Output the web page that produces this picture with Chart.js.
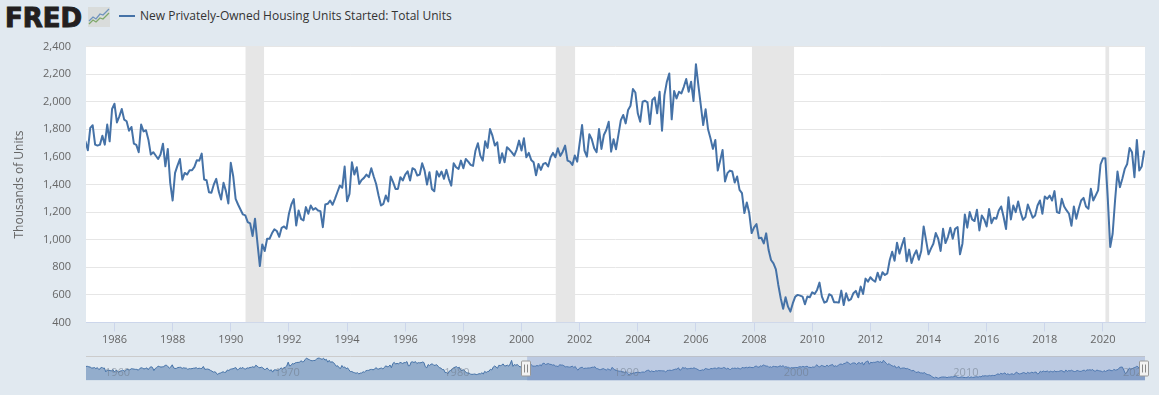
<!DOCTYPE html>
<html>
<head>
<meta charset="utf-8">
<title>New Privately-Owned Housing Units Started: Total Units</title>
<script src="https://cdn.jsdelivr.net/npm/chart.js@4"></script>
<style>
    html, body { margin: 0; padding: 0; background: #e1e9f0; width: 1159px; height: 395px; overflow: hidden; }
    canvas { position: absolute; left: 0; }
    #logo { position: absolute; left: 5px; top: 3px; font: bold 26px "DejaVu Sans"; color: #231f20; letter-spacing: 0; -webkit-text-stroke: 1px #231f20; }
    #logoIcon { position: absolute; left: 88px; top: 7px; }
    #legendLine { position: absolute; left: 119px; top: 15px; width: 16px; height: 2px; background: #4572a7; }
    #legendText { position: absolute; left: 140px; top: 7px; font: 12px "Open Sans"; line-height: 18px; color: #333; white-space: nowrap; }
</style>
</head>
<body>
<div id="logo">FRED</div>
<svg id="logoIcon" width="22" height="20" viewBox="0 0 22 20">
    <rect width="22" height="20" fill="#d9dcdb"/>
    <polyline points="1,14 5,10 8,12 12,7 15,8 21,2" fill="none" stroke="#6f93bd" stroke-width="1.3"/>
    <polyline points="1,17 5,13 8,15 12,11 15,12 21,6" fill="none" stroke="#7fa86a" stroke-width="1.3"/>
</svg>
<div id="legendLine"></div>
<div id="legendText">New Privately-Owned Housing Units Started: Total Units</div>
<canvas id="mainChart" width="1159" height="350" style="top:0"></canvas>
<canvas id="navChart" width="1159" height="45" style="top:350px"></canvas>

<script>
// Thousands of units, monthly from Jan 1985 to Jun 2021
const housingStarts = [
    1713, 1648, 1810, 1829, 1689, 1682, 1689, 1754, 1689, 1834, 1713, 1947,
    1985, 1850, 1894, 1947, 1870, 1858, 1790, 1817, 1696, 1687, 1634, 1834,
    1785, 1793, 1725, 1617, 1634, 1610, 1585, 1617, 1696, 1532, 1658, 1412,
    1284, 1484, 1537, 1585, 1436, 1484, 1472, 1503, 1503, 1528, 1576, 1573,
    1624, 1436, 1431, 1344, 1340, 1400, 1441, 1352, 1291, 1412, 1352, 1262,
    1557, 1460, 1296, 1255, 1219, 1183, 1176, 1128, 1118, 1026, 1152, 977,
    809, 966, 918, 1007, 1007, 1046, 1075, 1063, 1021, 1086, 1096, 1079,
    1188, 1255, 1294, 1103, 1212, 1151, 1139, 1236, 1188, 1248, 1217, 1229,
    1212, 1207, 1091, 1255, 1260, 1284, 1253, 1296, 1344, 1392, 1376, 1530,
    1279, 1332, 1561, 1472, 1525, 1404, 1433, 1448, 1472, 1453, 1518, 1458,
    1404, 1320, 1248, 1260, 1320, 1277, 1458, 1417, 1368, 1368, 1453, 1429,
    1472, 1496, 1429, 1518, 1508, 1465, 1472, 1554, 1501, 1400, 1489, 1368,
    1351, 1496, 1458, 1494, 1441, 1506, 1441, 1392, 1554, 1525, 1513, 1573,
    1518, 1585, 1566, 1542, 1535, 1645, 1699, 1609, 1573, 1713, 1665, 1802,
    1754, 1682, 1706, 1556, 1626, 1561, 1670, 1653, 1633, 1609, 1653, 1718,
    1646, 1735, 1597, 1629, 1578, 1561, 1467, 1549, 1506, 1549, 1556, 1530,
    1597, 1629, 1598, 1663, 1607, 1638, 1682, 1573, 1566, 1542, 1610, 1566,
    1699, 1831, 1646, 1602, 1764, 1728, 1663, 1634, 1802, 1658, 1759, 1795,
    1855, 1638, 1728, 1655, 1759, 1867, 1904, 1843, 1940, 1971, 2092, 2067,
    1916, 1855, 2000, 2007, 1995, 1838, 2012, 2031, 1916, 2072, 1790, 2048,
    2145, 2205, 1872, 2077, 2024, 2072, 2060, 2108, 2164, 2072, 2145, 2005,
    2272, 2120, 1976, 1831, 1945, 1800, 1735, 1658, 1723, 1501, 1573, 1650,
    1422, 1482, 1501, 1494, 1414, 1458, 1361, 1337, 1193, 1270, 1193, 1048,
    1089, 1113, 1010, 1014, 973, 1046, 925, 853, 829, 785, 672, 576,
    499, 583, 515, 479, 540, 588, 600, 595, 588, 532, 588, 583,
    619, 607, 636, 689, 588, 544, 552, 605, 595, 547, 547, 544,
    631, 527, 612, 559, 569, 612, 629, 583, 660, 607, 718, 696,
    728, 708, 696, 761, 708, 764, 744, 756, 853, 913, 848, 978,
    899, 959, 1012, 843, 928, 831, 887, 923, 855, 918, 1096, 995,
    894, 935, 971, 1048, 1007, 918, 1079, 976, 1019, 1087, 1007, 1079,
    1091, 894, 971, 1183, 1087, 1200, 1147, 1135, 1217, 1067, 1176, 1147,
    1096, 1222, 1120, 1159, 1152, 1212, 1241, 1164, 1077, 1308, 1147, 1248,
    1200, 1277, 1200, 1144, 1164, 1255, 1207, 1159, 1176, 1248, 1284, 1188,
    1313, 1296, 1320, 1284, 1352, 1200, 1193, 1296, 1241, 1212, 1188, 1101,
    1241, 1152, 1224, 1284, 1303, 1241, 1224, 1369, 1284, 1320, 1357, 1545,
    1590, 1590, 1296, 947, 1043, 1284, 1494, 1381, 1441, 1513, 1549, 1665,
    1634, 1453, 1723, 1501, 1530, 1641
];

// Older history only visible in the navigator, monthly from Jan 1959 to Dec 1984
const earlyStarts = [
    1657, 1667, 1620, 1590, 1498, 1503, 1547, 1430, 1540, 1355, 1416, 1601,
    1460, 1503, 1109, 1289, 1271, 1247, 1197, 1344, 1097, 1246, 1246, 1063,
    1183, 1226, 1312, 1166, 1228, 1382, 1335, 1312, 1429, 1415, 1385, 1365,
    1361, 1278, 1443, 1524, 1483, 1404, 1450, 1517, 1324, 1533, 1622, 1564,
    1244, 1456, 1534, 1689, 1641, 1588, 1614, 1639, 1763, 1779, 1622, 1491,
    1603, 1820, 1517, 1448, 1467, 1550, 1562, 1569, 1455, 1524, 1486, 1484,
    1361, 1433, 1423, 1438, 1478, 1488, 1529, 1432, 1482, 1452, 1460, 1656,
    1370, 1378, 1394, 1352, 1265, 1194, 1086, 1119, 1046, 843, 961, 990,
    1067, 1123, 1056, 1091, 1304, 1248, 1364, 1407, 1421, 1491, 1538, 1308,
    1380, 1520, 1466, 1554, 1408, 1405, 1512, 1495, 1556, 1569, 1630, 1548,
    1769, 1705, 1561, 1524, 1583, 1528, 1368, 1358, 1507, 1381, 1229, 1327,
    1085, 1305, 1319, 1264, 1290, 1385, 1517, 1399, 1534, 1580, 1708, 2085,
    1704, 1748, 1951, 1899, 2013, 2051, 2062, 2063, 2227, 2124, 2140, 2345,
    2494, 2390, 2334, 2249, 2221, 2254, 2252, 2382, 2481, 2485, 2421, 2366,
    2481, 2289, 2365, 2084, 2266, 2067, 2123, 2051, 1874, 1677, 1724, 1526,
    1451, 1752, 1555, 1607, 1426, 1513, 1316, 1142, 1150, 1070, 1026, 975,
    1032, 904, 993, 1005, 1121, 1087, 1226, 1260, 1264, 1344, 1360, 1321,
    1367, 1538, 1421, 1395, 1459, 1495, 1401, 1550, 1720, 1629, 1641, 1804,
    1527, 1943, 2063, 1892, 1971, 1893, 2058, 2020, 1949, 2042, 2042, 2142,
    1718, 1738, 2098, 2115, 2044, 2144, 1946, 2036, 2016, 2032, 2096, 2049,
    1630, 1520, 1847, 1748, 1876, 1913, 1760, 1778, 1832, 1681, 1524, 1498,
    1341, 1350, 1047, 1051, 927, 1196, 1269, 1387, 1523, 1580, 1637, 1500,
    1575, 1277, 1254, 1335, 1172, 1050, 1000, 988, 887, 862, 878, 900,
    843, 866, 931, 917, 1025, 902, 1166, 1046, 1144, 1173, 1372, 1303,
    1586, 1699, 1606, 1472, 1776, 1733, 1785, 1910, 1710, 1715, 1785, 1688,
    1897, 2260, 1663, 1851, 1774, 1843, 1732, 1586, 1698, 1590, 1689, 1612
];

const yearTicks = [1986, 1988, 1990, 1992, 1994, 1996, 1998, 2000, 2002, 2004, 2006, 2008, 2010, 2012, 2014, 2016, 2018, 2020];
const navYears = [1960, 1970, 1980, 1990, 2000, 2010, 2020];
const recessionStarts = [1990.5, 2001.17, 2007.92, 2020.08];
const recessionEnds = [1991.15, 2001.85, 2009.38, 2020.22];

const firstYear = 1985;
const navFirstYear = 1959;
const lastDate = firstYear + (housingStarts.length - 1) / 12;

const mainPoints = housingStarts.map((v, i) => ({ x: firstYear + i / 12, y: v }));
const earlyPoints = earlyStarts.map((v, i) => ({ x: navFirstYear + i / 12, y: v }));

// Grey recession bands, drawn as filled two point lines
const recessionSets = recessionStarts.map((start, i) => ({
    data: [{ x: start, y: 2400 }, { x: recessionEnds[i], y: 2400 }],
    borderWidth: 0,
    pointRadius: 0,
    backgroundColor: '#e6e6e6',
    fill: 'start'
}));

const whitePlot = {
    id: 'whitePlot',
    beforeDraw(chart) {
        const a = chart.chartArea;
        chart.ctx.fillStyle = '#ffffff';
        chart.ctx.fillRect(a.left, a.top, a.width, a.height);
    }
};

new Chart(document.getElementById('mainChart'), {
    type: 'line',
    data: {
        datasets: [{
            data: mainPoints,
            borderColor: '#4572a7',
            borderWidth: 2,
            borderJoinStyle: 'round',
            borderCapStyle: 'round',
            pointRadius: 0,
            tension: 0,
            fill: false
        }, ...recessionSets]
    },
    plugins: [whitePlot],
    options: {
        responsive: false,
        animation: false,
        layout: { padding: { top: 46.5, right: 14, left: 0, bottom: 0 } },
        plugins: { legend: { display: false }, tooltip: { enabled: false } },
        scales: {
            x: {
                type: 'linear',
                min: firstYear + 0.02,
                max: lastDate + 0.03,
                afterFit: s => { s.height = 27.5; },
                afterBuildTicks: s => { s.ticks = yearTicks.map(y => ({ value: y })); },
                grid: { drawOnChartArea: false, drawTicks: true, tickLength: 9, tickColor: '#ccd6eb' },
                border: { color: '#ccd6eb' },
                ticks: {
                    color: '#666666',
                    font: { family: 'Open Sans', size: 11 },
                    maxRotation: 0,
                    padding: 2,
                    callback: v => String(v)
                }
            },
            y: {
                min: 400,
                max: 2400,
                afterFit: s => { s.width = 86; },
                grid: { color: '#e6e6e6', drawTicks: false },
                border: { display: false },
                ticks: {
                    stepSize: 200,
                    color: '#666666',
                    padding: 15,
                    font: { family: 'Open Sans', size: 11 }
                },
                title: {
                    display: true,
                    text: 'Thousands of Units',
                    color: '#666666',
                    font: { family: 'Open Sans', size: 12 },
                    padding: { top: 12, bottom: 0 }
                }
            }
        }
    }
});

// Navigator overlay: selected window, year labels, handles
const navOverlay = {
    id: 'navOverlay',
    afterDraw(chart) {
        const ctx = chart.ctx;
        const a = chart.chartArea;
        const xs = chart.scales.x;
        ctx.save();
        ctx.strokeStyle = '#cccccc';
        ctx.lineWidth = 1;
        ctx.beginPath();
        ctx.moveTo(a.left, a.top);
        ctx.lineTo(a.right, a.top);
        ctx.stroke();

        const left = xs.getPixelForValue(firstYear);
        const right = xs.getPixelForValue(lastDate);
        ctx.fillStyle = 'rgba(102, 133, 194, 0.3)';
        ctx.fillRect(left, a.top, right - left, a.height);

        ctx.font = '11px "Open Sans"';
        ctx.fillStyle = 'rgba(110, 120, 135, 0.55)';
        ctx.textBaseline = 'middle';
        navYears.forEach(y => {
            ctx.fillText(String(y), xs.getPixelForValue(y) + 2, a.top + 16);
        });

        [left, right].forEach(x => {
            const cx = Math.round(x);
            ctx.fillStyle = '#f2f2f2';
            ctx.strokeStyle = '#999999';
            ctx.lineWidth = 1;
            ctx.beginPath();
            ctx.roundRect(cx - 5.5, a.top + 4.5, 9, 15, 1);
            ctx.fill();
            ctx.stroke();
            ctx.strokeStyle = '#888888';
            ctx.beginPath();
            ctx.moveTo(cx - 2.5, a.top + 8);
            ctx.lineTo(cx - 2.5, a.top + 16);
            ctx.moveTo(cx + 0.5, a.top + 8);
            ctx.lineTo(cx + 0.5, a.top + 16);
            ctx.stroke();
        });
        ctx.restore();
    }
};

new Chart(document.getElementById('navChart'), {
    type: 'line',
    data: {
        datasets: [{
            data: earlyPoints.concat(mainPoints),
            borderColor: '#4572a7',
            borderWidth: 1,
            borderJoinStyle: 'round',
            pointRadius: 0,
            tension: 0,
            backgroundColor: 'rgba(69, 114, 167, 0.5)',
            fill: 'start'
        }]
    },
    plugins: [navOverlay],
    options: {
        responsive: false,
        animation: false,
        layout: { padding: { top: 6.5, right: 14, left: 86, bottom: 14.5 } },
        plugins: { legend: { display: false }, tooltip: { enabled: false } },
        scales: {
            x: { type: 'linear', min: navFirstYear, max: lastDate, display: false },
            y: { min: 250, max: 2650, display: false }
        }
    }
});
</script>
</body>
</html>
